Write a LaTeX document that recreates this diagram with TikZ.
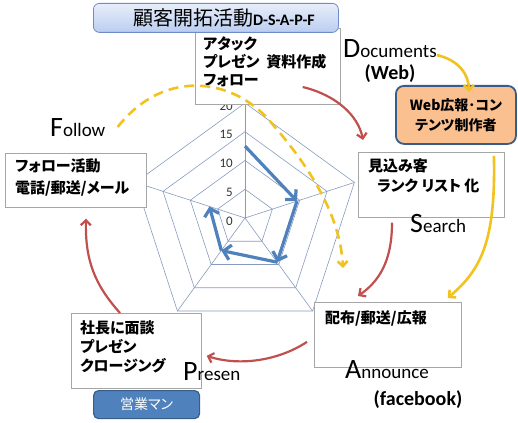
\documentclass[tikz,border=0pt]{standalone}
\usepackage{fontspec}
\setmainfont{Carlito}
\newfontfamily\jp{Noto Sans CJK JP}[RawFeature=+palt]
\usetikzlibrary{arrows.meta,calc,positioning}
\definecolor{redarc}{RGB}{192,80,77}
\definecolor{gold}{RGB}{242,194,30}
\definecolor{chartblue}{RGB}{79,129,189}
\definecolor{gridline}{RGB}{135,155,190}
\definecolor{webfill}{RGB}{250,192,144}
\definecolor{darkedge}{RGB}{56,93,138}
\newcommand\biglead[2]{{\fontsize{28}{28}\selectfont #1}{\fontsize{19}{19}\selectfont #2}}

\begin{document}
\begin{tikzpicture}[x=1pt,y=-1pt,
  box/.style={draw=black!35, fill=white, line width=0.7pt, inner sep=0pt, anchor=north west},
  txt/.style={font=\jp\bfseries\fontsize{15}{#1}\selectfont, align=left, inner sep=0pt, anchor=north west},
  lead/.style={anchor=base west, inner sep=0pt},
  paren/.style={font=\bfseries\fontsize{20}{20}\selectfont, inner sep=0pt},
  grid/.style={draw=gridline, line width=0.6pt},
  lvl/.style={anchor=east, inner sep=0pt, font=\fontsize{13}{13}\selectfont, text=black!80},
  bluarr/.style={draw=chartblue, line width=3.2pt, -{Straight Barb[length=7pt,width=15pt]}},
  redarr/.style={draw=redarc, line width=2.2pt, -{Straight Barb[length=5pt,width=10pt]}},
  yelarr/.style={draw=gold, line width=2.6pt, -{Straight Barb[length=5pt,width=10pt]}},
  yeldash/.style={yelarr, dash pattern=on 10pt off 6pt}]
\useasboundingbox (0,0) rectangle (518,422);

% radar
\begin{scope}[shift={(245,218)}, yscale=-1]
\foreach \r in {1,...,4}
  \draw[grid] (90:\r*28.75) -- (18:\r*28.75) -- (-54:\r*28.75) -- (-126:\r*28.75) -- (162:\r*28.75) -- cycle;
\foreach \a in {90,18,-54,-126,162}
  \draw[grid] (0,0) -- (\a:115);
\foreach \v in {0,5,...,20}
  \node[lvl] at (-12,\v*5.75-3) {\v};
\foreach \a/\ra/\b/\rb in {90/12.5/18/9.5, 18/9.5/-54/9.5, -54/9.5/-126/7, -126/7/162/6.5}
  \draw[bluarr] (\a:\ra*5.75) -- (\b:\rb*5.75);
\end{scope}

% boxes
\node[box, minimum width=145pt, minimum height=76pt] (acts) at (195,28) {};
\node[txt=18pt, below right=9pt and 8pt of acts.north west] {アタック\\プレゼン\hspace{7pt}資料作成\\フォロー};

\node[box, minimum width=146pt, minimum height=65pt] (search) at (358,152) {};
\node[txt=20pt, below right=6pt and 10pt of search.north west] {見込み客\\\hspace*{9pt}ランク リスト 化};

\node[box, minimum width=141pt, minimum height=54pt] (fol) at (5,153) {};
\node[txt=22pt, below right=5pt and 10pt of fol.north west] {フォロー活動\\電話/郵送/メール};

\node[box, minimum width=147pt, minimum height=65pt] (ann) at (314,302) {};
\node[txt=18pt, below right=8pt and 11pt of ann.north west] {配布/郵送/広報};

\node[box, minimum width=130pt, minimum height=75pt] (pres) at (71,313) {};
\node[txt=19pt, below right=7pt and 9pt of pres.north west] {社長に面談\\プレゼン\\クロージング};

\node[anchor=north west, minimum width=120pt, minimum height=58pt, rounded corners=8pt,
  fill=webfill, draw=darkedge, line width=1.8pt, align=center,
  font=\jp\bfseries\fontsize{14}{20}\selectfont] (web) at (395,85) {Web広報･コン\\テンツ制作者};

\node[anchor=north west, minimum width=106pt, minimum height=28pt, rounded corners=5pt,
  fill=chartblue, draw=darkedge, line width=1.2pt, text=white,
  font=\jp\fontsize{14}{14}\selectfont] (sales) at (93,390) {営業マン};

\node[anchor=north west, minimum width=245pt, minimum height=29pt, rounded corners=6pt,
  top color={rgb,255:red,232;green,238;blue,250}, bottom color={rgb,255:red,186;green,205;blue,240},
  draw={rgb,255:red,110;green,140;blue,200}, line width=0.8pt] (title) at (93,3)
  {\hspace*{16pt}{\jp\fontsize{20}{20}\selectfont 顧客開拓活動}{\bfseries\fontsize{16}{16}\selectfont D-S-A-P-F}};

% labels
\node[lead] (docs) at (343,58) {\biglead{D}{ocuments}};
\node[paren] (weblbl) at (390,74) {(Web)};
\node[lead] (follbl) at (50,136) {\biglead{F}{ollow}};
\node[lead] (srchlbl) at (410,232) {\biglead{S}{earch}};
\node[lead] (annlbl) at (345,378) {\biglead{A}{nnounce}};
\node[paren] (fblbl) at (418,400) {(facebook)};
\node[lead] (preslbl) at (183,380) {\biglead{P}{resen}};

% cycle arrows
\draw[redarr] ($(acts.north east)+(-38,59)$) .. controls ($(acts.north east)+(-5,67)$) and ($(search.north west)+(0,-37)$) .. ($(search.north west)+(5,-12)$);
\draw[redarr] ($(search.south west)+(34,5)$) .. controls ($(search.south west)+(34,45)$) and ($(ann.north west)+(64,-20)$) .. ($(ann.north west)+(44,-6)$);
\draw[redarr] ($(ann.west)+(-7,7)$) .. controls ($(ann.west)+(-34,25)$) and ($(pres.east)+(39,16)$) .. ($(pres.east)+(5,5)$);
\draw[redarr] ($(pres.north west)+(49,0)$) .. controls ($(pres.north west)+(24,-28)$) and ($(fol.south west)+(80,53)$) .. ($(fol.south west)+(81,11)$);

\draw[yelarr] ([yshift=-6pt]docs.east) .. controls ($(web.north)+(3,-25)$) and ($(web.north)+(13,-10)$) .. ($(web.north)+(13,7)$);
\draw[yelarr] ($(web.south)+(38,11)$) .. controls ($(web.south)+(40,97)$) and ($(ann.north east)+(19,-32)$) .. ($(ann.north east)+(-14,-4)$);

\coordinate (dstart) at ($(fol.north east)+(-29,-26)$);
\coordinate (dmid) at ($(acts.south west)+(70,11)$);
\coordinate (dend) at ($(ann.north west)+(29,-34)$);
\draw[yeldash] (dstart) .. controls ($(dstart)+(43,-55)$) and ($(dmid)+(-40,-40)$) .. (dmid)
  .. controls ($(dmid)+(45,50)$) and ($(dend)+(-3,-53)$) .. (dend);
\end{tikzpicture}
\end{document}
